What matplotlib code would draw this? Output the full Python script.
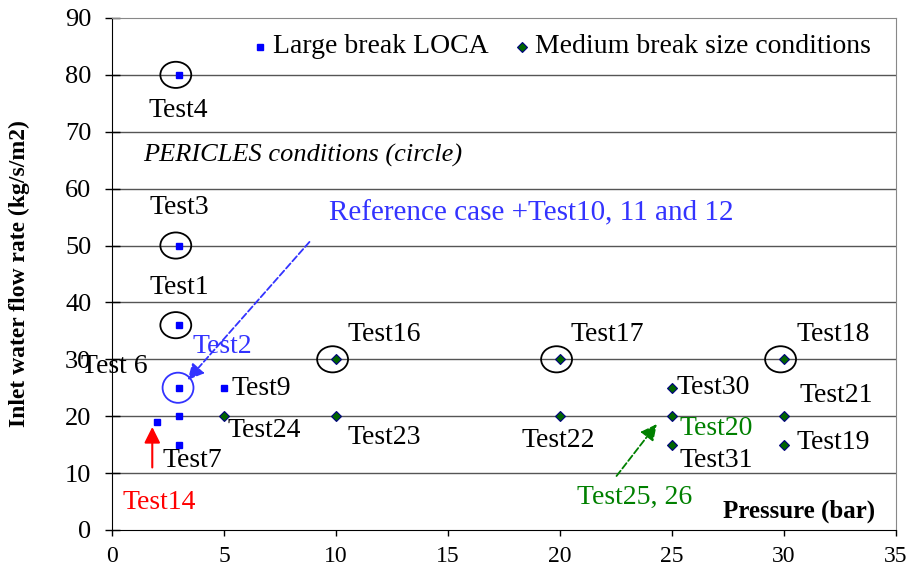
import matplotlib
matplotlib.use('Agg')
import matplotlib.pyplot as plt
from matplotlib.patches import Ellipse

plt.rcParams['font.family'] = ['Liberation Serif', 'DejaVu Serif']

# Large break LOCA points (pressure bar, flow kg/s/m2)
large_p = [3, 3, 3, 3, 3, 3, 2, 5]
large_q = [80, 50, 36, 25, 20, 15, 19, 25]

# Medium break size points
medium_p = [5, 10, 10, 20, 20, 25, 25, 25, 30, 30, 30]
medium_q = [20, 30, 20, 30, 20, 25, 20, 15, 30, 20, 15]

# PERICLES conditions (circled)
circle_p = [3, 3, 3, 10, 20, 30]
circle_q = [80, 50, 36, 30, 30, 30]
ref_p, ref_q = 3, 25

# labels: (text, x, y, alignment, colour)
labels = [
    ('Test4', 2.95, 73.8, 'center', 'black'),
    ('Test3', 3.0, 56.6, 'center', 'black'),
    ('Test1', 3.0, 42.7, 'center', 'black'),
    ('Test2', 3.6, 32.2, 'left', '#3333ff'),
    ('Test16', 10.5, 34.3, 'left', 'black'),
    ('Test17', 20.45, 34.3, 'left', 'black'),
    ('Test18', 30.55, 34.3, 'left', 'black'),
    ('Test 6', 1.6, 28.7, 'right', 'black'),
    ('Test9', 5.35, 24.8, 'left', 'black'),
    ('Test24', 5.15, 17.4, 'left', 'black'),
    ('Test23', 10.5, 16.3, 'left', 'black'),
    ('Test22', 18.3, 15.8, 'left', 'black'),
    ('Test30', 25.2, 25.1, 'left', 'black'),
    ('Test21', 30.7, 23.7, 'left', 'black'),
    ('Test20', 25.35, 17.9, 'left', '#008000'),
    ('Test31', 25.35, 12.3, 'left', 'black'),
    ('Test19', 30.55, 15.3, 'left', 'black'),
    ('Test7', 2.25, 12.3, 'left', 'black'),
    ('Test14', 0.45, 4.75, 'left', 'red'),
    ('Test25, 26', 20.75, 5.8, 'left', '#008000'),
]

fig = plt.figure(figsize=(9.08, 5.67), dpi=100)
ax = fig.add_axes([0.1233, 0.0653, 0.8634, 0.903])

# grid lines
for yv in range(10, 90, 10):
    ax.axhline(yv, color='#555555', lw=1.0, zorder=0)

ax.plot(large_p, large_q, 's', color='blue', ms=5, ls='none', zorder=3)
ax.plot(medium_p, medium_q, 'D', mfc='#006400', mec='navy', mew=0.8, ms=5.5, ls='none', zorder=3)

# legend made by hand
ax.plot([6.6], [84.9], 's', color='blue', ms=5)
ax.text(7.2, 84.9, 'Large break LOCA', fontsize=20, va='center')
ax.plot([18.3], [84.9], 'D', mfc='#006400', mec='navy', mew=0.8, ms=5.5)
ax.text(18.9, 84.9, 'Medium break size conditions', fontsize=20, va='center')

for p, q in zip(circle_p, circle_q):
    ax.add_patch(Ellipse((p - 0.15, q), 1.38, 4.6, fill=False, ec='black', lw=1.3, zorder=2))
ax.add_patch(Ellipse((ref_p - 0.05, ref_q), 1.38, 5.3, fill=False, ec='#3333ff', lw=1.3, zorder=2))

for txt, x, y, ha, c in labels:
    ax.text(x, y, txt, fontsize=20, color=c, ha=ha, va='center')

ax.text(1.38, 65.9, 'PERICLES conditions (circle)', fontsize=19, style='italic', va='center')
ax.text(9.7, 55.6, 'Reference case +Test10, 11 and 12', fontsize=21, color='#3333ff', va='center')
ax.text(34.05, 3.2, 'Pressure (bar)', fontsize=18, weight='bold', ha='right', va='center')

# arrows
ax.annotate('', xy=(3.3, 26.0), xytext=(8.9, 51.0),
            arrowprops=dict(arrowstyle='-|>', color='#3333ff', lw=1.3, ls='--', mutation_scale=24))
ax.annotate('', xy=(1.8, 18.6), xytext=(1.8, 10.5),
            arrowprops=dict(arrowstyle='-|>', color='red', lw=1.5, mutation_scale=24))
ax.annotate('', xy=(24.4, 19.0), xytext=(22.45, 9.1),
            arrowprops=dict(arrowstyle='-|>', color='#008000', lw=1.3, ls='--', mutation_scale=24))

ax.set_xlim(0, 35)
ax.set_ylim(0, 90)
ax.set_xticks(range(0, 36, 5))
ax.set_yticks(range(0, 91, 10))
ax.tick_params(axis='x', labelsize=17, direction='out', length=4.5, width=1, pad=7)
ax.tick_params(axis='y', labelsize=19, direction='inout', length=10.8, width=1, pad=9.5)
ax.spines['top'].set_color('#888888')
ax.spines['right'].set_color('#888888')
ax.set_ylabel('Inlet water flow rate (kg/s/m2)', fontsize=17, weight='bold')
ax.yaxis.set_label_coords(-0.105, 0.5)

fig.savefig('out.png', dpi=100)
